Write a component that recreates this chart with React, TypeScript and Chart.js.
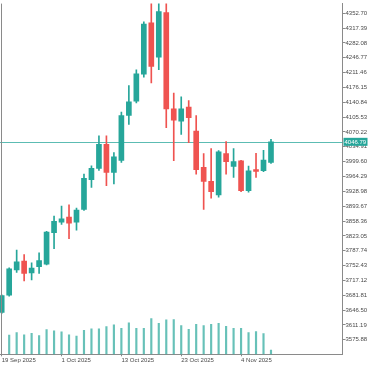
import React, { useEffect, useRef } from 'react';
import { Chart, registerables } from 'chart.js';

Chart.register(...registerables);

const dates = [
  '19 Sep 2025', '22 Sep 2025', '23 Sep 2025', '24 Sep 2025', '25 Sep 2025', '26 Sep 2025',
  '29 Sep 2025', '30 Sep 2025', '1 Oct 2025', '2 Oct 2025', '3 Oct 2025', '6 Oct 2025',
  '7 Oct 2025', '8 Oct 2025', '9 Oct 2025', '10 Oct 2025', '13 Oct 2025', '14 Oct 2025',
  '15 Oct 2025', '16 Oct 2025', '17 Oct 2025', '20 Oct 2025', '21 Oct 2025', '22 Oct 2025',
  '23 Oct 2025', '24 Oct 2025', '27 Oct 2025', '28 Oct 2025', '29 Oct 2025', '30 Oct 2025',
  '31 Oct 2025', '3 Nov 2025', '4 Nov 2025', '5 Nov 2025', '6 Nov 2025', '7 Nov 2025',
  '10 Nov 2025',
];

const openP = [
  3641.0, 3682.0, 3741.9, 3763.1, 3734.8, 3749.7, 3756.1, 3830.7, 3856.0, 3867.8,
  3856.0, 3886.0, 3956.8, 3983.5, 4040.9, 3974.1, 4002.4, 4109.4, 4143.4, 4207.9,
  4330.0, 4248.1, 4354.4, 4125.2, 4096.2, 4129.3, 4072.6, 3985.9, 3952.8, 3920.5,
  4018.9, 3988.2, 4001.7, 3930.8, 3980.5, 3978.1, 3997.7,
];
const highP = [
  3683.0, 3747.0, 3789.1, 3778.7, 3759.1, 3782.7, 3834.0, 3870.1, 3893.8, 3896.8,
  3889.0, 3970.1, 3989.9, 4060.8, 4060.8, 4021.3, 4117.4, 4180.3, 4218.1, 4332.4,
  4380.0, 4378.0, 4381.0, 4163.0, 4153.6, 4144.8, 4109.4, 4018.9, 4030.8, 4026.0,
  4047.3, 4030.8, 4003.0, 3989.0, 4019.7, 4026.7, 4052.7,
];
const lowP = [
  3639.0, 3680.0, 3736.2, 3715.9, 3718.3, 3733.9, 3754.0, 3792.9, 3850.5, 3816.5,
  3836.4, 3883.6, 3938.6, 3978.8, 3942.7, 3946.4, 3997.7, 4088.2, 4139.4, 4200.8,
  4186.6, 4218.1, 4080.4, 4001.7, 4064.5, 4044.9, 3970.1, 3886.0, 3912.7, 3915.0,
  3970.1, 3962.3, 3928.0, 3926.8, 3962.3, 3975.7, 3995.3,
];
const closeP = [
  3681.2, 3745.0, 3761.5, 3733.9, 3746.6, 3764.6, 3832.3, 3857.6, 3863.8, 3853.6,
  3884.3, 3959.9, 3983.5, 4040.9, 3974.1, 4011.2, 4109.4, 4141.8, 4208.6, 4326.7,
  4226.1, 4356.7, 4125.2, 4098.5, 4125.2, 4104.0, 3980.4, 3952.8, 3928.5, 4023.0,
  3999.3, 4000.1, 3930.8, 3978.1, 3976.4, 4003.1, 4046.79,
];
const volume: (number | null)[] = [
  null, 193, 220, 197, 213, 190, 250, 237, 227, 197,
  183, 243, 257, 257, 280, 297, 263, 317, 263, 263,
  360, 313, 347, 350, 290, 253, 303, 290, 303, 313,
  283, 263, 263, 220, 230, 210, 43,
];

const yTickLabels = [
  '4352.70', '4317.39', '4282.08', '4246.77', '4211.46', '4176.15', '4140.84', '4105.53',
  '4070.22', '4034.91', '3999.60', '3964.29', '3928.98', '3893.67', '3858.36', '3823.05',
  '3787.74', '3752.43', '3717.12', '3681.81', '3646.50', '3611.19', '3575.88',
];
const xTickIndices = [0, 8, 16, 24, 32];

const UP = '#26a69a';
const DOWN = '#ef5350';
const AXIS = '#8a8a8a';
const TEXT = '#4a4a4a';
const FONT = { family: '"Liberation Sans", Arial, sans-serif', size: 6 };

export default function App() {
  const ref = useRef<HTMLCanvasElement>(null);

  useEffect(() => {
    const canvas = ref.current;
    if (!canvas) return;
    const colors = openP.map((o, i) => (closeP[i] >= o ? UP : DOWN));
    const idx = dates.map((_, i) => i);
    const lastClose = closeP[closeP.length - 1];

    const overlay = {
      id: 'overlay',
      beforeDatasetsDraw(chart: any) {
        const { ctx, chartArea } = chart;
        const y = Math.round(chart.scales.y.getPixelForValue(lastClose)) + 0.5;
        ctx.save();
        ctx.strokeStyle = 'rgba(38,166,154,0.75)';
        ctx.lineWidth = 1;
        ctx.beginPath();
        ctx.moveTo(chartArea.left, y);
        ctx.lineTo(chartArea.right, y);
        ctx.stroke();
        ctx.restore();
      },
      afterDraw(chart: any) {
        const { ctx, chartArea } = chart;
        ctx.save();
        ctx.strokeStyle = AXIS;
        ctx.lineWidth = 1;
        ctx.beginPath();
        ctx.moveTo(1.5, chartArea.top);
        ctx.lineTo(1.5, chartArea.bottom);
        ctx.stroke();
        const y = chart.scales.y.getPixelForValue(lastClose);
        ctx.fillStyle = UP;
        ctx.fillRect(chartArea.right + 1, y - 4, 24, 8);
        ctx.fillStyle = '#ffffff';
        ctx.font = `${FONT.size}px ${FONT.family}`;
        ctx.textAlign = 'left';
        ctx.textBaseline = 'middle';
        ctx.fillText(lastClose.toFixed(2), chartArea.right + 2, y + 0.5);
        ctx.restore();
      },
    };

    const chart = new Chart(canvas, {
      type: 'bar',
      data: {
        datasets: [
          {
            label: 'body',
            data: idx.map((i) => ({ x: i, y: [openP[i], closeP[i]] })) as any,
            backgroundColor: colors,
            barThickness: 5,
            minBarLength: 1,
            grouped: false,
            order: 0,
            yAxisID: 'y',
          },
          {
            label: 'wick',
            data: idx.map((i) => ({ x: i, y: [lowP[i], highP[i]] })) as any,
            backgroundColor: colors,
            barThickness: 1,
            grouped: false,
            order: 1,
            yAxisID: 'y',
          },
          {
            label: 'volume',
            data: idx.map((i) => ({ x: i, y: volume[i] })) as any,
            backgroundColor: 'rgba(38,166,154,0.7)',
            barThickness: 1.5,
            grouped: false,
            order: 2,
            yAxisID: 'yv',
          },
        ],
      },
      options: {
        animation: false,
        responsive: true,
        maintainAspectRatio: false,
        layout: { padding: 0 },
        plugins: { legend: { display: false }, tooltip: { enabled: false } },
        scales: {
          x: {
            type: 'linear',
            position: 'bottom',
            offset: false,
            min: -0.227,
            max: 45.56,
            grid: { offset: false, drawOnChartArea: false, drawTicks: true, tickLength: 2, color: AXIS },
            border: { color: AXIS, width: 1 },
            ticks: {
              align: 'start',
              padding: 0,
              font: FONT,
              color: TEXT,
              maxRotation: 0,
              autoSkip: false,
              callback: (v: any) => dates[v] ?? '',
            },
            afterBuildTicks: (s: any) => {
              s.ticks = xTickIndices.map((v) => ({ value: v }));
            },
            afterFit: (s: any) => {
              s.height = 11.7;
            },
          } as any,
          y: {
            type: 'linear',
            position: 'right',
            min: 3541.5,
            max: 4375.5,
            grid: { drawOnChartArea: false, tickLength: 3, color: AXIS },
            border: { color: AXIS, width: 1 },
            ticks: {
              padding: 0,
              font: FONT,
              color: TEXT,
              autoSkip: false,
              callback: (v: any) => Number(v).toFixed(2),
            },
            afterBuildTicks: (s: any) => {
              s.ticks = yTickLabels.map((t) => ({ value: parseFloat(t) }));
            },
            afterFit: (s: any) => {
              s.width = 32.5;
            },
          } as any,
          yv: {
            type: 'linear',
            display: false,
            min: 0,
            max: 3543,
          },
        },
      },
      plugins: [overlay],
    });
    return () => chart.destroy();
  }, []);

  return (
    <div style={{ position: 'fixed', left: 0, top: 0, width: 375, height: 366, background: '#fff' }}>
      <canvas ref={ref} />
    </div>
  );
}
